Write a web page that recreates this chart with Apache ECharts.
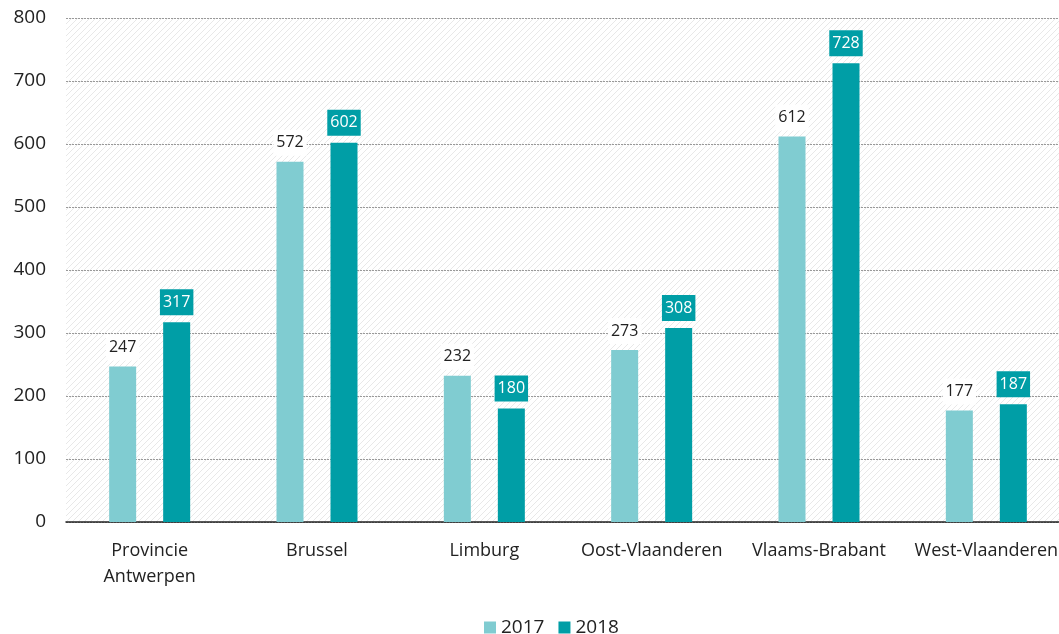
<!DOCTYPE html>
<html>
<head>
<meta charset="utf-8">
<script src="https://cdn.jsdelivr.net/npm/echarts@6/dist/echarts.min.js"></script>
<style>
html, body { margin: 0; padding: 0; background: #fff; overflow: hidden; }
#main { width: 1070px; height: 634px; }
</style>
</head>
<body>
<div id="main"></div>
<script>
var categories = ['Provincie\nAntwerpen', 'Brussel', 'Limburg', 'Oost-Vlaanderen', 'Vlaams-Brabant', 'West-Vlaanderen'];
var values2017 = [247, 572, 232, 273, 612, 177];
var values2018 = [317, 602, 180, 308, 728, 187];
var yTicks = { min: 0, max: 800, interval: 100 };

// diagonal hatch for the plot background
var hatch = document.createElement('canvas');
hatch.width = 6;
hatch.height = 6;
var hc = hatch.getContext('2d');
hc.fillStyle = '#fff';
hc.fillRect(0, 0, 6, 6);
hc.strokeStyle = '#e8e8e8';
hc.lineWidth = 1;
hc.beginPath();
hc.moveTo(0, 6); hc.lineTo(6, 0);
hc.moveTo(-1, 1); hc.lineTo(1, -1);
hc.moveTo(5, 7); hc.lineTo(7, 5);
hc.stroke();

var font = 'Open Sans';
var chart = echarts.init(document.getElementById('main'));

chart.setOption({
	textStyle : { fontFamily : font },
	color : [ '#80CCD1', '#009EA6' ],
	grid : {
		show : true,
		left : 66,
		top : 18,
		right : 0,
		bottom : 112,
		borderWidth : 0,
		backgroundColor : { image : hatch, repeat : 'repeat' }
	},
	legend : {
		bottom : -8,
		left : 479,
		itemWidth : 12,
		itemHeight : 12,
		itemGap : 14,
		icon : 'rect',
		textStyle : { fontSize : 19, color : '#222', fontFamily : font },
		data : [ '2017', '2018' ]
	},
	xAxis : [ {
		type : 'category',
		data : categories,
		axisTick : { show : false },
		axisLine : { lineStyle : { color : '#222', width : 1.5 } },
		axisLabel : {
			color : '#222',
			fontSize : 18,
			margin : 16,
			lineHeight : 26,
			interval : 0
		}
	} ],
	yAxis : [ {
		type : 'value',
		min : yTicks.min,
		max : yTicks.max,
		interval : yTicks.interval,
		axisLine : { show : false },
		axisTick : { show : false },
		axisLabel : { color : '#222', fontSize : 19, margin : 20 },
		splitLine : {
			show : true,
			lineStyle : { color : '#999', type : [ 2, 1 ], width : 1 }
		}
	} ],
	series : [ {
		name : '2017',
		type : 'bar',
		barWidth : 27,
		barGap : '100%',
		data : values2017,
		label : {
			show : true,
			position : 'top',
			distance : 6,
			color : '#222',
			fontSize : 16,
			backgroundColor : '#fff',
			padding : [ 5, 3 ]
		}
	}, {
		name : '2018',
		type : 'bar',
		barWidth : 27,
		data : values2018,
		label : {
			show : true,
			position : 'top',
			distance : 7,
			color : '#fff',
			fontSize : 16,
			backgroundColor : '#009EA6',
			padding : [ 5, 3 ]
		}
	} ]
});
</script>
</body>
</html>
